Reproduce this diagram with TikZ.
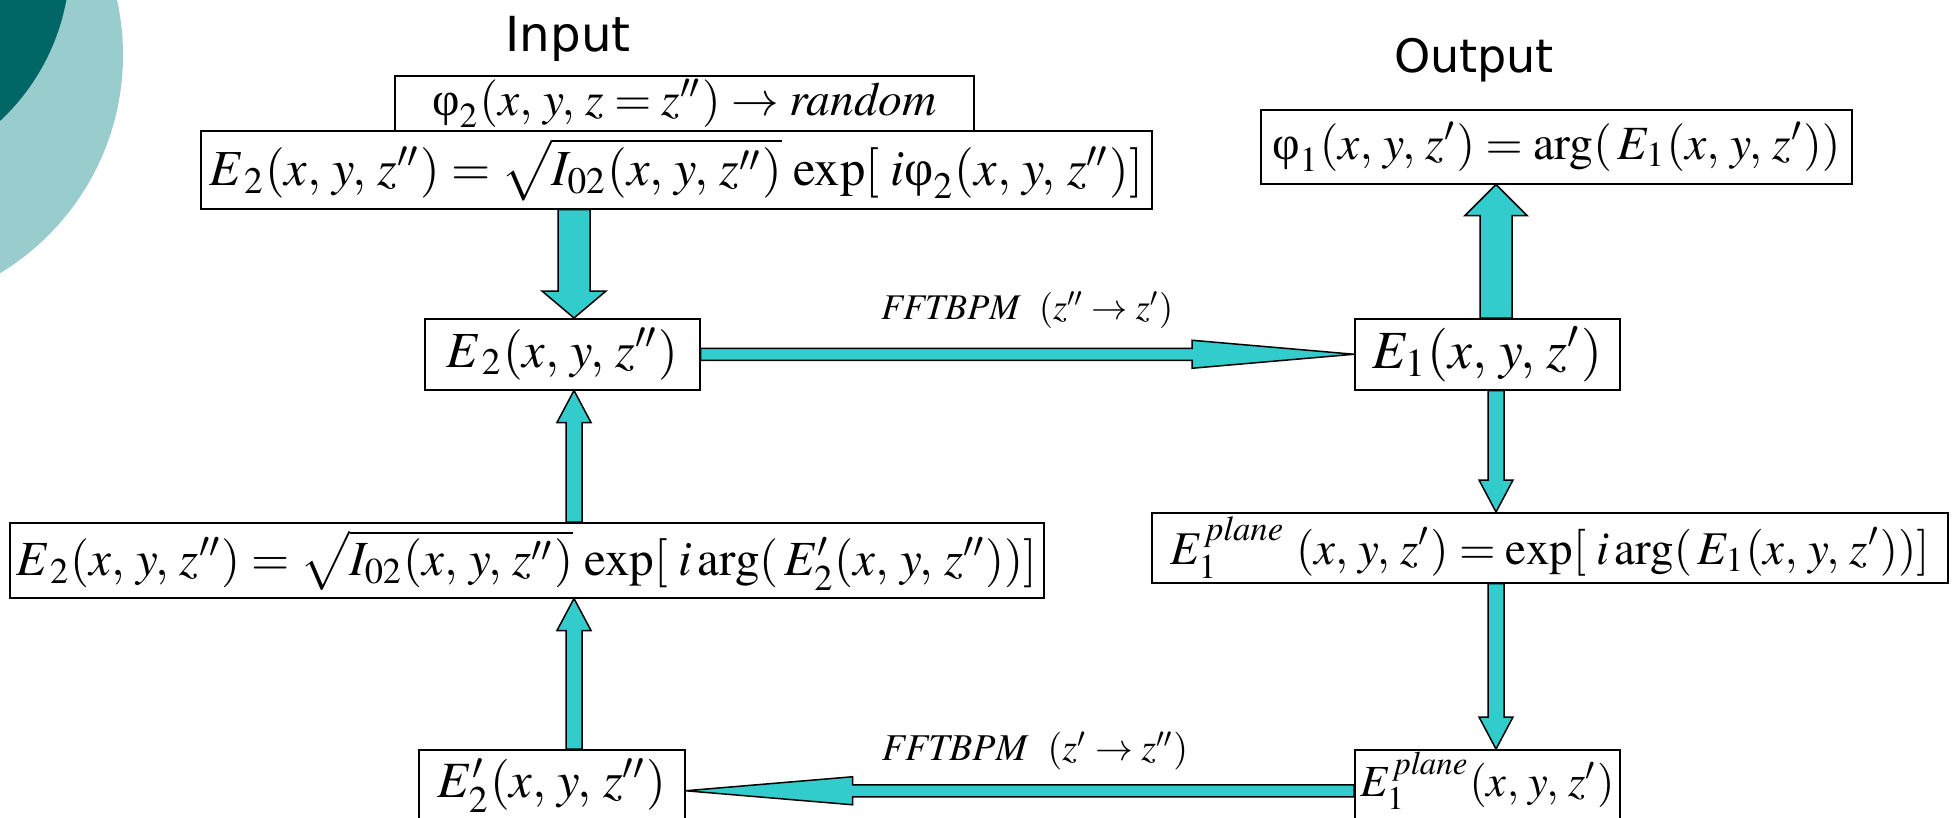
\documentclass[tikz,border=0pt]{standalone}
\usepackage{mathptmx}
\usepackage{fontspec}
\setmainfont{Liberation Serif}
\newfontfamily\labelfont{DejaVu Sans}
\usetikzlibrary{calc}
\definecolor{arrowcyan}{HTML}{33CCCC}
\definecolor{lightteal}{HTML}{99CCCC}
\definecolor{darkteal}{HTML}{006666}
\newcommand\fitto[2]{\resizebox{#1}{!}{#2}}
\newcommand\uphi{\mbox{φ}}
\newcommand\cm{,\,}
\newcommand\varr[5]{%
  \filldraw[blockarrow] let \p1=(#1), \p2=(#2) in
  (\x1-#3,\y1) -- (\x1-#3,\y2+#5) -- (\x1-#4,\y2+#5) -- (\x1,\y2) --
  (\x1+#4,\y2+#5) -- (\x1+#3,\y2+#5) -- (\x1+#3,\y1) -- cycle;}
\newcommand\harr[5]{%
  \filldraw[blockarrow] let \p1=(#1), \p2=(#2) in
  (\x1,\y1-#3) -- (\x2+#5,\y1-#3) -- (\x2+#5,\y1-#4) -- (\x2,\y1) --
  (\x2+#5,\y1+#4) -- (\x2+#5,\y1+#3) -- (\x1,\y1+#3) -- cycle;}
\tikzset{
  eqbox/.style={draw=black, line width=1.5pt, fill=white, inner sep=0pt, anchor=north west},
  blockarrow/.style={fill=arrowcyan, draw=black, line width=1.5pt, line join=miter},
  lbl/.style={inner sep=0pt, font=\labelfont},
}
\begin{document}
\begin{tikzpicture}[x=1pt,y=-1pt]
\clip (0,0) rectangle (1957,817);
\fill[white] (0,0) rectangle (1957,817);
% decoration
\fill[lightteal] (-132,55) circle[radius=255pt];
\fill[darkteal] (-150,-40) circle[radius=220pt];
% column guides
\coordinate (colL) at (574,0);
\coordinate (colR) at (1496,0);
% titles
\node[lbl] (input) at (568,39) {\fitto{125pt}{Input}};
\node[lbl] (output) at (1474,60) {\fitto{160pt}{Output}};
% boxes
\node[eqbox, minimum width=579pt, minimum height=55pt] (phi2) at (394,75)
  {\fitto{504pt}{$\uphi_2(x\cm y\cm z = z'') \rightarrow \mathit{random}$}};
\node[eqbox, minimum width=951pt, minimum height=78pt] (e2init) at (200,130)
  {\fitto{934pt}{$E_{\,2}(x\cm y\cm z'') = \sqrt{I_{02}(x\cm y\cm z'')}\,\exp[\;i\uphi_2(x\cm y\cm z'')]$}};
\node[eqbox, minimum width=591pt, minimum height=74pt] (phi1) at (1260,109)
  {\fitto{568pt}{$\uphi_1(x\cm y\cm z') = \arg(\,E_1(x\cm y\cm z'))$}};
\node[eqbox, minimum width=275pt, minimum height=71pt] (e2) at (424,318)
  {\fitto{231pt}{$E_{\,2}(x\cm y\cm z'')$}};
\node[eqbox, minimum width=265pt, minimum height=71pt] (e1) at (1354,318)
  {\fitto{230pt}{$E_1(x\cm y\cm z')$}};
\node[eqbox, minimum width=1034pt, minimum height=75pt] (e2upd) at (9,522)
  {\fitto{1021pt}{$E_{\,2}(x\cm y\cm z'') = \sqrt{I_{02}(x\cm y\cm z'')}\,\exp[\;i\arg(\,E'_2(x\cm y\cm z''))]$}};
\node[eqbox, minimum width=796pt, minimum height=70pt] (e1eq) at (1151,512)
  {\fitto{759pt}{$E_1^{\,\mathit{plane}}\;(x\cm y\cm z') = \exp[\;i\arg(\,E_1(x\cm y\cm z'))]$}};
\node[eqbox, minimum width=266pt, minimum height=72pt] (e2p) at (418,749)
  {\fitto{228pt}{$E'_2(x\cm y\cm z'')$}};
\node[eqbox, minimum width=265pt, minimum height=72pt] (e1p) at (1354,749)
  {\raisebox{5pt}[\height][\depth]{\fitto{254pt}{$E_1^{\,\mathit{plane}}(x\cm y\cm z')$}}};
% labels on horizontal arrows
\node[inner sep=0pt] (lab1) at (1027,310) {\fitto{292pt}{$\mathit{FFTBPM}\ \ (z''\rightarrow z')$}};
\node[inner sep=0pt] (lab2) at (1035,751) {\fitto{306pt}{$\mathit{FFTBPM}\ \ (z'\rightarrow z'')$}};
% arrows
\varr{e2init.south -| colL}{e2.north -| colL}{16pt}{32pt}{27pt}
\varr{e2upd.north -| colL}{e2.south -| colL}{8pt}{17pt}{-32pt}
\varr{e2p.north -| colL}{e2upd.south -| colL}{8pt}{17pt}{-32pt}
\varr{e1.north -| colR}{phi1.south -| colR}{16pt}{31pt}{-31pt}
\varr{e1.south -| colR}{e1eq.north -| colR}{8pt}{17pt}{32pt}
\varr{e1eq.south -| colR}{e1p.north -| colR}{8pt}{17pt}{32pt}
\harr{e2.east}{e1.west}{6pt}{14pt}{-162pt}
\harr{[yshift=-5pt]e1p.west}{[yshift=-5pt]e2p.east}{6pt}{14pt}{167pt}
\end{tikzpicture}
\end{document}
